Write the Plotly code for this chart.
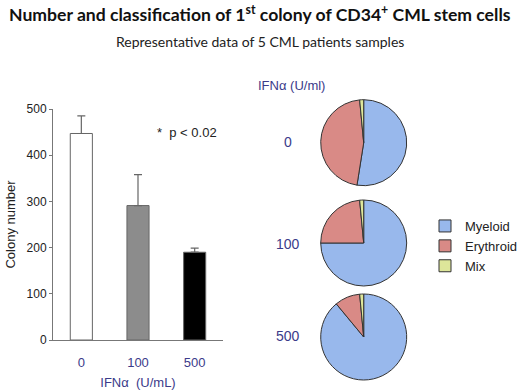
import plotly.graph_objects as go

# ---- data ----
doses = ["0", "100", "500"]
colony_mean = [447, 291, 190]
colony_err = [38, 67, 9]
bar_colors = ["#ffffff", "#8c8c8c", "#000000"]

pie_labels = ["Myeloid", "Erythroid", "Mix"]
pie_0 = [52.5, 46.0, 1.5]
pie_100 = [75.0, 23.5, 1.5]
pie_500 = [89.0, 9.5, 1.5]
pie_colors = ["#98b8ec", "#d98a86", "#dde69a"]

W, H = 520, 392
def px(x): return x / W
def py(y): return 1 - y / H

fig = go.Figure()

fig.add_trace(go.Bar(
    x=doses, y=colony_mean,
    marker=dict(color=bar_colors, line=dict(color="#666666", width=1)),
    width=0.39,
    error_y=dict(type="data", array=colony_err, symmetric=False, arrayminus=[0, 0, 0],
                 color="#666666", thickness=1.2, width=4),
    showlegend=False, xaxis="x", yaxis="y",
))

pie_sets = [pie_0, pie_100, pie_500]
centers_y = [142.7, 243, 337]
r = 43
cx = 363.7
for i, (vals, cy) in enumerate(zip(pie_sets, centers_y)):
    fig.add_trace(go.Pie(
        labels=pie_labels, values=vals, sort=False, direction="clockwise", rotation=0,
        marker=dict(colors=pie_colors, line=dict(color="#333333", width=1)),
        textinfo="none", hoverinfo="label+percent",
        domain=dict(x=[px(cx - r), px(cx + r)], y=[py(cy + r), py(cy - r)]),
        showlegend=(i == 0),
    ))

text_font = "Liberation Sans, Arial, sans-serif"
blue_txt = "#3b3b8a"

fig.update_layout(
    width=W, height=H,
    margin=dict(l=0, r=0, t=0, b=0, autoexpand=False),
    paper_bgcolor="white", plot_bgcolor="white",
    font=dict(family=text_font, size=12, color="#222222"),
    xaxis=dict(domain=[px(53), px(223)], range=[-0.5, 2.5], type="category",
               showline=True, linecolor="#777777", linewidth=1, ticks="",
               tickfont=dict(size=13, color=blue_txt), showgrid=False, zeroline=False,
               anchor="y", ticklabelstandoff=10,
               title=dict(text="IFNα  (U/mL)", font=dict(size=13, color=blue_txt), standoff=9)),
    yaxis=dict(domain=[py(340), py(109)], range=[0, 500], tickvals=[0, 100, 200, 300, 400, 500],
               showline=True, linecolor="#777777", linewidth=1, ticks="outside", ticklen=3,
               tickcolor="#777777", showgrid=False, zeroline=False, anchor="x",
               tickfont=dict(size=12, color="#222222"),
               title=dict(text="Colony number", font=dict(size=13, color="#222222"), standoff=8)),
    legend=dict(x=px(425), y=py(211), xanchor="left", yanchor="top",
                font=dict(size=13, color="#222222"), bgcolor="rgba(0,0,0,0)",
                itemwidth=30, tracegroupgap=0),
    annotations=[
        dict(text="<b>Number and classification of 1<sup>st</sup> colony of CD34<sup>+</sup> CML stem cells</b>",
             x=0.5, y=py(13), xref="paper", yref="paper", showarrow=False,
             font=dict(family="Lato, sans-serif", size=17.6, color="#111111"), yanchor="middle"),
        dict(text="Representative data of 5 CML patients samples",
             x=0.5, y=py(42), xref="paper", yref="paper", showarrow=False,
             font=dict(family="Lato, sans-serif", size=14, color="#222222"), yanchor="middle"),
        dict(text="*  p < 0.02", x=px(155), y=py(132), xref="paper", yref="paper",
             xanchor="left", yanchor="middle", showarrow=False, font=dict(size=13, color="#222222")),
        dict(text="*", x="500", y=colony_mean[2] + colony_err[2] + 30, xref="x", yref="y",
             showarrow=False, font=dict(size=12, color="#222222")),
        dict(text="IFNα (U/ml)", x=px(256), y=py(86), xref="paper", yref="paper",
             xanchor="left", yanchor="middle", showarrow=False, font=dict(size=13, color=blue_txt)),
    ] + [
        dict(text=d, x=px(288), y=py(cy), xref="paper", yref="paper", showarrow=False,
             font=dict(size=14, color=blue_txt), yanchor="middle")
        for d, cy in zip(doses, [142, 244, 336])
    ],
)

fig.write_html("out.html", config={"displayModeBar": False},
               post_script="document.body.style.margin='0';")
